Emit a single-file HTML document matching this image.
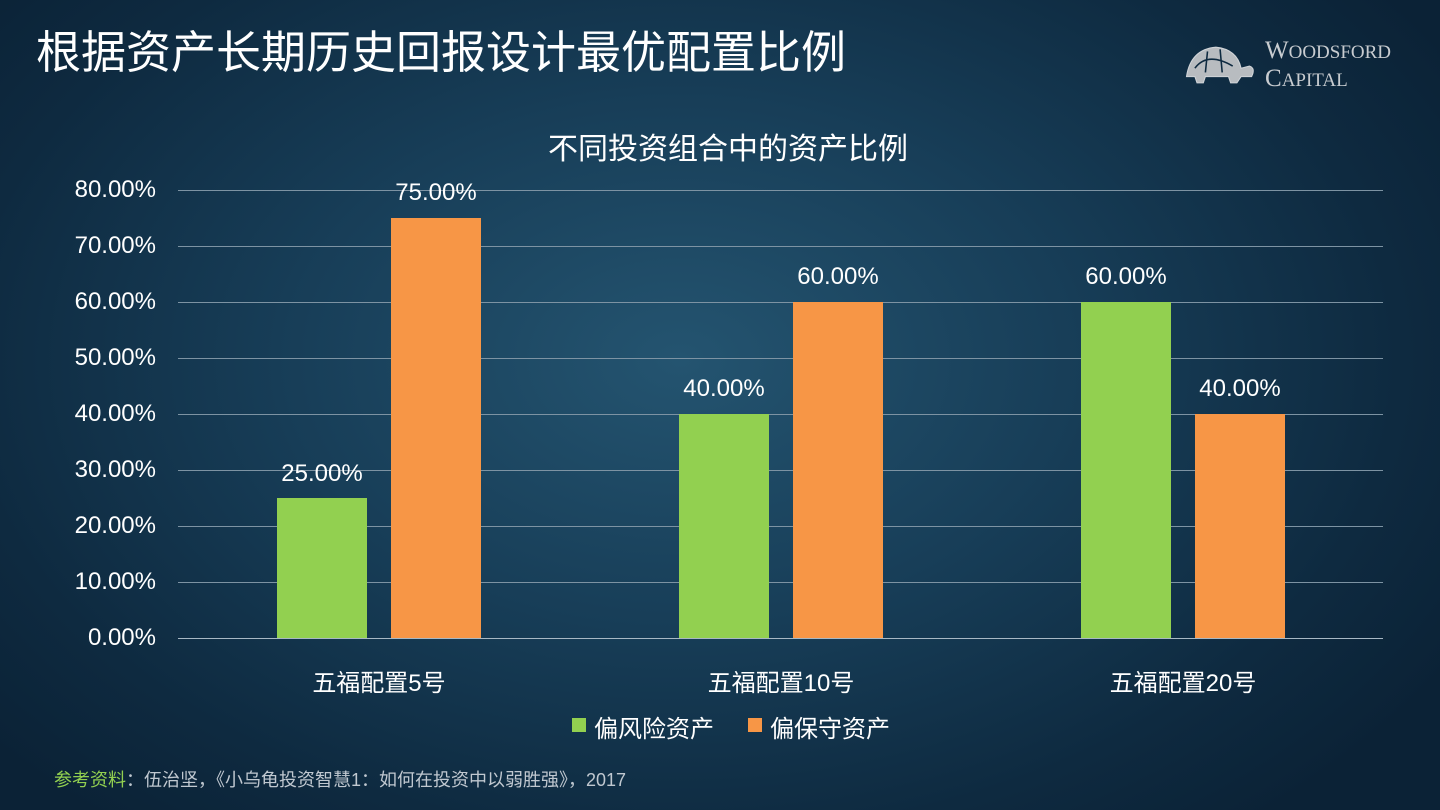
<!DOCTYPE html>
<html><head><meta charset="utf-8"><style>
body{margin:0;width:1440px;height:810px;overflow:hidden;font-family:"Liberation Sans","Noto Sans CJK SC",sans-serif;color:#fff;
background:radial-gradient(ellipse 900px 600px at 680px 360px,#245470 0%,#173d57 45%,#0e2a40 80%,#0b2236 100%);position:relative}
.a{position:absolute;white-space:nowrap}
.g{position:absolute;left:178px;width:1205px;height:1px;background:#7d93a3}
.yl{position:absolute;left:56px;width:100px;text-align:right;font-size:24px;color:#fff}
.b{position:absolute;width:90px}
.v{position:absolute;width:140px;text-align:center;font-size:24px}
.x{position:absolute;width:240px;text-align:center;font-size:24px;top:663px}
</style></head><body>
<div class="a" style="left:36px;top:16px;font-size:45px">根据资产长期历史回报设计最优配置比例</div>
<svg class="a" style="left:1176px;top:40px" width="84" height="48" viewBox="0 0 80 44"><path d="M10 34 Q14 8 38 6 Q58 8 62 26 L70 24 Q76 26 72 34 L62 34 L58 40 L52 40 L50 34 L28 34 L26 40 L20 40 L18 34 Z" fill="#b8bcc0" stroke="#d0d4d8" stroke-width="1"/><path d="M18 26 Q30 10 54 24 M30 10 L28 30 M42 8 L44 30" stroke="#0e2a40" stroke-width="1.5" fill="none"/></svg>
<div class="a" style="left:1265px;top:38px;font-family:'Liberation Serif',serif;font-size:25px;color:#c8ccd0;line-height:26px">W<span style="font-size:19px">OODSFORD</span><br>C<span style="font-size:19px">APITAL</span></div>
<div class="a" style="left:548px;top:124px;font-size:30px">不同投资组合中的资产比例</div>
<div class="g" style="top:190px"></div><div class="g" style="top:246px"></div><div class="g" style="top:302px"></div><div class="g" style="top:358px"></div><div class="g" style="top:414px"></div><div class="g" style="top:470px"></div><div class="g" style="top:526px"></div><div class="g" style="top:582px"></div><div class="g" style="top:638px;background:#a8b8c4"></div>
<div class="yl" style="top:176px">80.00%</div><div class="yl" style="top:232px">70.00%</div><div class="yl" style="top:288px">60.00%</div><div class="yl" style="top:344px">50.00%</div><div class="yl" style="top:400px">40.00%</div><div class="yl" style="top:456px">30.00%</div><div class="yl" style="top:512px">20.00%</div><div class="yl" style="top:568px">10.00%</div><div class="yl" style="top:624px">0.00%</div>
<div class="b" style="left:277px;top:498px;height:140px;background:#92d050"></div>
<div class="b" style="left:391px;top:218px;height:420px;background:#f79646"></div>
<div class="b" style="left:679px;top:414px;height:224px;background:#92d050"></div>
<div class="b" style="left:793px;top:302px;height:336px;background:#f79646"></div>
<div class="b" style="left:1081px;top:302px;height:336px;background:#92d050"></div>
<div class="b" style="left:1195px;top:414px;height:224px;background:#f79646"></div>
<div class="v" style="left:252px;top:460px">25.00%</div>
<div class="v" style="left:366px;top:179px">75.00%</div>
<div class="v" style="left:654px;top:375px">40.00%</div>
<div class="v" style="left:768px;top:263px">60.00%</div>
<div class="v" style="left:1056px;top:263px">60.00%</div>
<div class="v" style="left:1170px;top:375px">40.00%</div>
<div class="x" style="left:259px">五福配置5号</div>
<div class="x" style="left:661px">五福配置10号</div>
<div class="x" style="left:1063px">五福配置20号</div>
<div class="a" style="left:572px;top:718px;width:14px;height:14px;background:#92d050"></div>
<div class="a" style="left:594px;top:709px;font-size:24px">偏风险资产</div>
<div class="a" style="left:748px;top:718px;width:14px;height:14px;background:#f79646"></div>
<div class="a" style="left:770px;top:709px;font-size:24px">偏保守资产</div>
<div class="a" style="left:54px;top:766px;font-size:18px;color:#c0c8d0"><span style="color:#92d050">参考资料</span>：伍治坚，《小乌龟投资智慧1：如何在投资中以弱胜强》，2017</div>
</body></html>
